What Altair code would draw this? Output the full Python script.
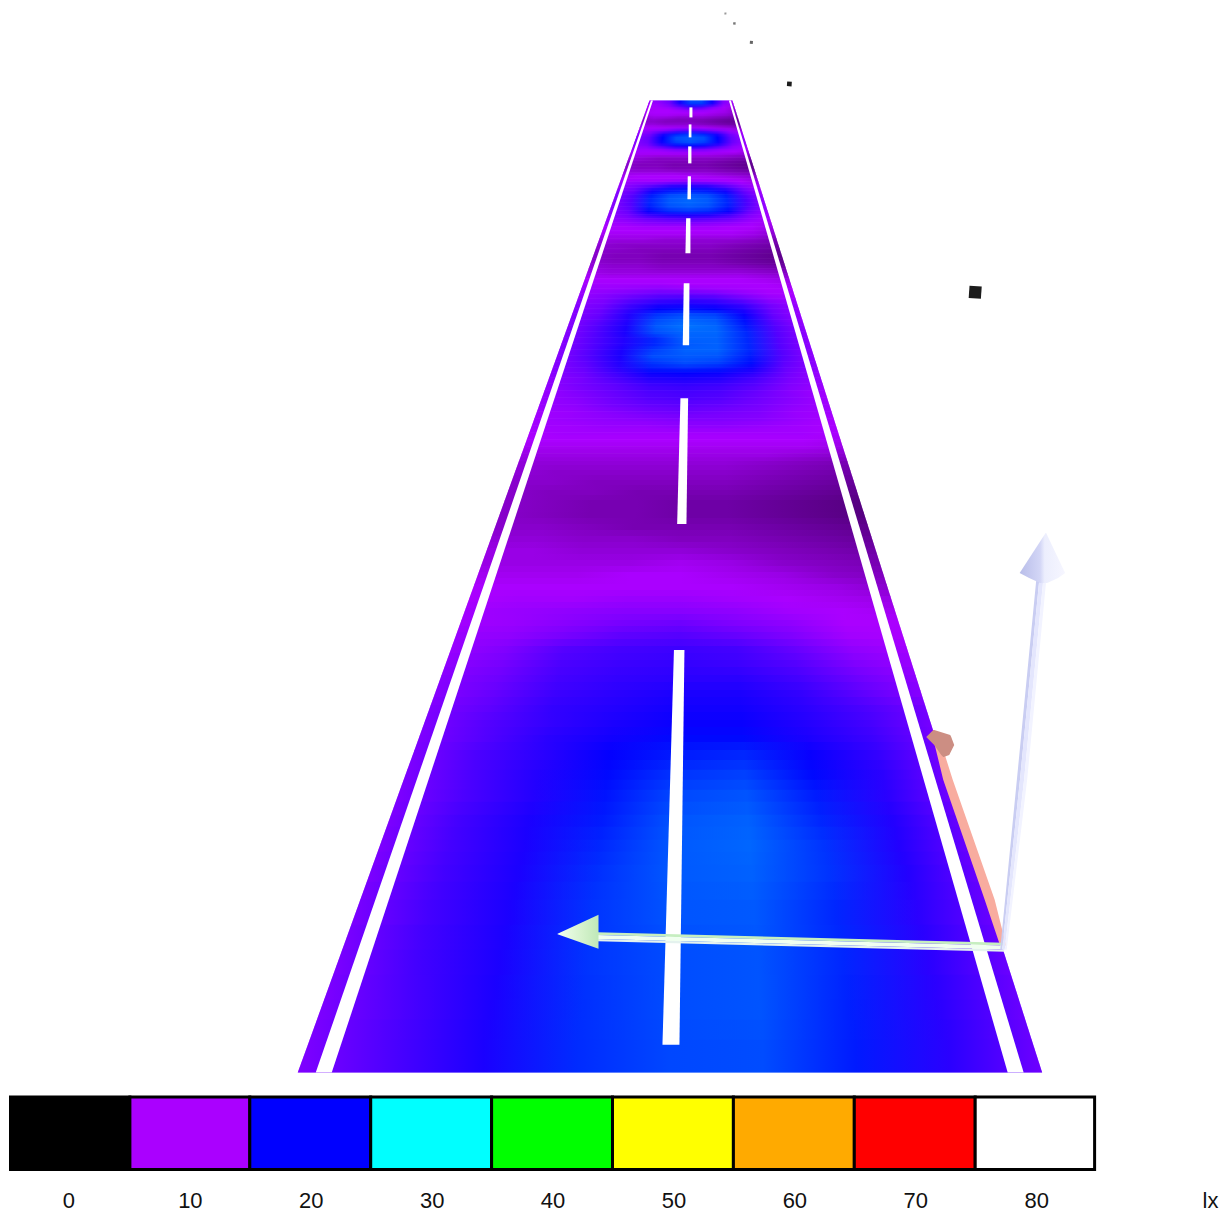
import altair as alt
import pandas as pd
import numpy as np

LEGEND_LUX = [0, 10, 20, 30, 40, 50, 60, 70, 80]
LEGEND_COLORS = ["#000000", "#aa00ff", "#0000ff", "#00ffff", "#00ff00", "#ffff00", "#ffaa00", "#ff0000", "#ffffff"]
LEGEND_EDGES = [9.5, 129, 249, 370, 491, 612, 733, 854, 975, 1094.5]
LEGEND_TEXT_X = [68, 189.5, 310.5, 431.5, 552.5, 673.5, 794.5, 915.5, 1036.5]
UNIT = "lx"

ROAD_Y = [100, 1073]
ROAD_LEFT = [649, 297]
ROAD_RIGHT = [732, 1042]
ROAD_END = 1073
CROSS = [0, .125, .25, .375, .5, .625, .75, .875, 1]

# lux read across the road (left edge to right edge) at each image row
LUX_ROWS = [
 (100, [11,12,14,20,23,23,20,13,10]),
 (103, [10.5,11,13,18,22,22,18,12,9.5]),
 (106, [10,10.5,11.5,14,17,16,13,10.5,9]),
 (109, [9.5,10,10,11,12,11.5,10.5,9.5,8]),
 (112, [10,10,10,10,10,10,9.5,9,8]),
 (115, [9,9.5,9.5,9,9,9,8.5,8,7]),
 (118, [8,8.5,8,7.5,7.5,7.5,7,6.5,6]),
 (121, [8,8,7.5,7.5,7.5,7,6.5,6,6]),
 (124, [9,9,8.5,8.5,8.5,8,7.5,7,6.5]),
 (127, [10,10,10,10.5,10.5,10,9.5,9,8]),
 (130, [11,11.5,13,15,16,15,13,11,9.5]),
 (133, [11.5,13,18,21,22,21,18,13,10.5]),
 (136, [12,14,20,23,23.5,23,20,14,11]),
 (139, [12,14,20,23,23.5,23,20,14,11]),
 (142, [12,13.5,19,22,23,22,19,13.5,11]),
 (145, [11.5,12.5,16,19,20,19,16,12,10.5]),
 (148, [11,11,12,13.5,14,13.5,12,11,10]),
 (151, [10.5,10.5,10.5,11,11,11,10.5,10,9]),
 (154, [9.5,9.5,9.5,9.5,9.5,9.5,9,8.5,8]),
 (157, [9,8.5,8,8,8,8,8,7.5,7]),
 (160, [8.5,8,7.5,7.5,7.5,7.5,7,6.5,6]),
 (163, [8,7.5,7.5,7,7,7,6.5,6,5.5]),
 (166, [8,7.5,7.5,7,7,7,6.5,6,5.5]),
 (169, [8.5,8,8,7.5,7.5,7.5,7,6.5,6]),
 (172, [9,9,9,9,8.5,8.5,8,7.5,7]),
 (175, [9.5,10,10,10,10,9.5,9,8.5,8]),
 (178, [10,10,10,10,10,10,10,9.5,8.5]),
 (181, [10.5,11,11,11.5,12,11.5,11,10,9]),
 (184, [11,12.5,14,16,16.5,16,14,11.5,9.5]),
 (187, [11,13,16,18.5,19,18.5,16,12.5,10]),
 (190, [12,14,19,21,21.5,21,19,14,10.5]),
 (194, [12,15,21,23,23.5,23,21,15,11]),
 (198, [12,15,21.5,23.5,24,23.5,21.5,15.5,11]),
 (202, [12,15,21.5,23.5,24,23.5,21.5,15.5,11]),
 (206, [12,14.5,21,23,23.5,23,21,15,11]),
 (210, [11.5,14,19.5,21.5,22,21.5,19.5,14,10.5]),
 (214, [11.5,13,16.5,18,18.5,18,16,12.5,10.5]),
 (218, [11,12,13.5,14.5,15,14.5,13.5,11.5,10]),
 (222, [10.5,11,12,12.5,12.5,12,11.5,10.5,9.5]),
 (226, [10,10,10.5,10.5,10.5,10.5,10,10,9]),
 (230, [10,10,10,10,10,10,10,9.5,8.5]),
 (234, [9.5,9.5,9.5,9.5,9.5,9.5,9.5,9,8]),
 (238, [9,9,9,8.5,8.5,8.5,8.5,8,7]),
 (243, [8.5,8,8,8,8,8,7.5,7,6.5]),
 (248, [8,8,7.5,7.5,7.5,7.5,7,6.5,6]),
 (253, [8,7.5,7.5,7,7,7,6.5,6,5.5]),
 (258, [8,7.5,7.5,7,7,7,6.5,6,5.5]),
 (263, [8.5,8,8,7.5,7.5,7.5,7,6.5,6]),
 (268, [9,8.5,8.5,8,8,8,8,7.5,7]),
 (273, [9.5,9,9,9,9,9,9,8.5,8]),
 (278, [10,10,10,10,10,10,10,9.5,9]),
 (283, [10.5,10.5,10.5,10.5,10,10,10,10,9.5]),
 (288, [11,11,11.5,12,11.5,11,10.5,10,10]),
 (293, [11,12,13,14,14,13.5,12,10.5,10]),
 (298, [11.5,12.5,14.5,16,16.5,16,14,11.5,10.5]),
 (303, [12,13,16,18,18.5,18,16.5,13,11]),
 (308, [12,13.5,17,20,20.5,20,18,13.5,11]),
 (313, [12,14,18,22,23,22.5,19.5,14,11]),
 (319, [12,14.5,18,23,24,23.5,20.5,14.5,11]),
 (325, [12,15,18.5,23.5,24.5,24,21,15,11.5]),
 (331, [12,15,18.5,23,24,24,21.5,15,11.5]),
 (337, [12,15,18,21.5,23.8,23.8,21.5,15,11.5]),
 (343, [12,15,18,21.5,23.5,23.8,21.5,15,11.5]),
 (349, [12,15,18.5,22.5,23.8,23.8,21.5,15,11.5]),
 (355, [12,15,18.5,23,23.5,23.3,21,15,11.5]),
 (361, [12,14.5,18,22,23,22.5,20.5,14.5,11.5]),
 (367, [12,14,17.5,21,21.5,21,19,14,11.5]),
 (372, [12,13.5,16.5,19.5,20,19.5,17.5,13.5,11]),
 (377, [11.5,13,15.5,18,18.5,18,16,13,11]),
 (383, [11.5,13,14.5,16.5,17,16.5,15,12.5,11]),
 (390, [11,12.5,14,15.5,16,15.5,14,12,10.5]),
 (397, [11,12,13.5,15,15.5,15,13.5,12,10.5]),
 (404, [11,11.5,13,14,14.5,14,13,11.5,10.5]),
 (411, [10.5,11,12,13,13.5,13,12.5,11,10.5]),
 (418, [10.5,11,11.5,12,12.5,12.5,12,11,10]),
 (425, [10.5,10.5,11,11,11.5,11.5,11,10.5,10]),
 (432, [10,10.5,10.5,10.5,10.5,10.5,10.5,10.5,10]),
 (439, [10,10,10,10,10,10,10,10,9.5]),
 (446, [9.5,9.5,9.5,9.5,9.5,9.5,9.5,9.5,9]),
 (453, [9,9,9,9,9,9,9,8.5,8]),
 (461, [8.5,8.5,8.5,8.5,8.5,8.5,8,7.5,7]),
 (470, [8.5,8,8,8,8,8,7.5,7,6.5]),
 (480, [8,8,7.5,7.5,7.5,7.5,7,6.5,6]),
 (490, [8,7.5,7.5,7,7,7,6.5,6,5.5]),
 (500, [8,7.5,7,7,6.5,6.5,6,5.5,5]),
 (512, [8,7.5,7,7,6.5,6.5,6,5.5,5]),
 (524, [8,8,7.5,7,7,7,6.5,6,5.5]),
 (536, [8.5,8.5,8,8,7.5,7.5,7,6.5,6]),
 (548, [9,9,8.5,8.5,8.5,8,7.5,7,6.5]),
 (560, [9,9,9,9,9.5,9,8,7.5,7]),
 (572, [9.5,9.5,9.5,10,10,9.5,9,8,7.5]),
 (584, [10,10,10,10,10,10,9.5,9,8]),
 (596, [10,10.5,10.5,11,11,10.5,10,9.5,9]),
 (608, [10.5,11,11.5,12,12,11.5,10.5,10,9.5]),
 (620, [10.5,11,12,13,13.5,12.5,11.5,10,10]),
 (632, [11,11.5,13,14.5,15,14,12.5,10.5,10]),
 (646, [11,12.5,15,16,16.5,16,14,11.5,10.5]),
 (660, [11.5,13,15.5,16.5,17,16.5,15,12.5,11]),
 (675, [12,13.5,16,17,17.5,17.5,16,13.5,11.5]),
 (690, [12,14,16.5,17.5,18.5,18.5,17,14.5,12]),
 (705, [12.5,14.5,17,18,19,19,17.5,15.5,13]),
 (720, [12.5,15,17,18.5,19.5,19.5,18,16,13]),
 (735, [12.5,15,17.5,19,20.3,20.3,18.5,16.5,13]),
 (750, [12.5,15.5,17.5,19.8,21,21.5,19.5,17,13]),
 (770, [12.5,15.5,18,20.3,22,22.5,20.3,17.5,13]),
 (790, [12.5,15.5,18,20.7,22.8,23.3,21,17.5,13]),
 (815, [12.5,16,18.5,21,23.3,23.8,21.5,18,13.5]),
 (840, [12.5,16,18.5,21.5,23.5,24,22,18,13.5]),
 (865, [12.5,16,18.5,21.8,23.5,23.8,22,18,13.5]),
 (900, [12.5,16,18.5,22,23.3,23.5,21.5,17.5,13.5]),
 (950, [12.5,16,18.5,22,23,23.3,21.5,17.5,13.5]),
 (1000, [12.5,15.5,18.5,21.8,23,23.3,21.2,17.5,13.5]),
 (1040, [12.5,15.5,18.5,21.7,22.8,23,21,17.5,13.5]),
]

# lane markings: y, left x, right x
LEFT_LINE = [(100, 650.5, 652.5), (1073, 315, 331)]
RIGHT_LINE = [(100, 728.5, 730.5), (1073, 1007.5, 1023.5)]
DASHES = [
 [(107, 689, 692), (117, 689, 692)],
 [(124, 688.3, 691), (137, 688.3, 691)],
 [(146, 687.7, 691), (163, 687.7, 691)],
 [(176, 687.3, 690.5), (199, 687, 690.5)],
 [(218, 685.7, 690), (253, 685, 690)],
 [(283, 683.3, 689), (345, 682.3, 688.7)],
 [(398, 680, 687.7), (524, 676.7, 686)],
 [(650, 673.5, 684), (1045, 662, 679)],
]

RED_SHAFT = [(745, 934.5, 941.5), (780, 943, 952.5), (900, 984.5, 994.5), (946, 1000, 1006)]
RED_CONE = [(730, 933, 934), (735, 928, 950), (737, 926, 951), (745, 934, 954), (755, 941, 949), (757, 943, 943.5)]
BLUE_SHAFT = [(581, 1036, 1046), (780, 1016.7, 1027), (950, 1000, 1006.5)]
BLUE_STRIPS = [(0, .3, "#c9cdf2"), (.3, .7, "#e4e6fd"), (.7, 1, "#f2f3ff")]
BLUE_CONE = [(533, 1045.5, 1046), (573, 1019.5, 1065), (578, 1029, 1058), (583, 1040, 1047)]
GREEN_SHAFT = [(597, 932.5, 941.5), (1004, 943, 952)]
GREEN_STRIPS = [(0, .3, "#c6eec0"), (.3, .75, "#f0fff0"), (.75, 1, "#e4f2ee")]
GREEN_CONE = [(557, 934, 934.5), (598, 915, 949)]

CUBES_X = [975, 789, 751, 734, 725]
CUBES_Y = [292, 83.5, 42, 23, 13]
CUBES_SIZE = [150, 22, 9, 6, 4]
CUBES_COLOR = ["#1c1c1c", "#1c1c1c", "#666666", "#777777", "#999999"]

XS = alt.Scale(domain=[8, 1222], nice=False, zero=False)
YS = alt.Scale(domain=[1208, 8], nice=False, zero=False)
X = alt.X("x:Q", scale=XS, axis=None)
Y = alt.Y("y:Q", scale=YS, axis=None)


def lux_hex(v):
    rgb = [int(c[i:i + 2], 16) for c in LEGEND_COLORS for i in (1, 3, 5)]
    rgb = np.array(rgb).reshape(-1, 3)
    vals = [np.interp(v, LEGEND_LUX, rgb[:, k]) for k in range(3)]
    return "#%02x%02x%02x" % tuple(int(round(a)) for a in vals)


def hgrad(stops):
    return alt.LinearGradient(gradient="linear", x1=0, x2=1, y1=0, y2=0,
                              stops=[alt.GradientStop(offset=o, color=c) for o, c in stops])


def band(points, color, opacity=1):
    df = pd.DataFrame(points, columns=["y", "x", "x2"])
    return alt.Chart(df).mark_area(orient="horizontal", color=color, opacity=opacity).encode(
        y=Y, x=X, x2="x2:Q")


def vband(points, color):
    df = pd.DataFrame(points, columns=["x", "y", "y2"])
    return alt.Chart(df).mark_area(orient="vertical", color=color, opacity=1).encode(
        x=X, y=Y, y2="y2:Q")


def road_x(y):
    return (float(np.interp(y, ROAD_Y, ROAD_LEFT)), float(np.interp(y, ROAD_Y, ROAD_RIGHT)))


def strips(points, parts, make):
    out = []
    for a, b, c in parts:
        pts = [(p[0], p[1] + a * (p[2] - p[1]), p[1] + b * (p[2] - p[1])) for p in points]
        out.append(make(pts, c))
    return out


layers = []
ys = [r[0] for r in LUX_ROWS] + [ROAD_END]
for i, (y0, lux) in enumerate(LUX_ROWS):
    ye = min(ys[i + 1] + 0.5, ROAD_END)
    l0, r0 = road_x(y0)
    l1, r1 = road_x(ye)
    layers.append(band([(y0, l0, r0), (ye, l1, r1)],
                       hgrad([(o, lux_hex(v)) for o, v in zip(CROSS, lux)])))
# second pass, half a row out of step and half transparent, softens the row steps
for i, (y0, lux) in enumerate(LUX_ROWS):
    top = y0 if i == 0 else (ys[i - 1] + y0) // 2
    bot = ROAD_END if i == len(LUX_ROWS) - 1 else (y0 + ys[i + 1]) // 2
    l0, r0 = road_x(top)
    l1, r1 = road_x(bot)
    layers.append(band([(top, l0, r0), (bot, l1, r1)],
                       hgrad([(o, lux_hex(v)) for o, v in zip(CROSS, lux)]), opacity=0.5))

layers.append(band(LEFT_LINE, "#ffffff"))
layers.append(band(RIGHT_LINE, "#ffffff"))
for d in DASHES:
    layers.append(band(d, "#ffffff"))

layers.append(band(RED_SHAFT, "#f8ac9f"))
layers.append(band(RED_CONE, "#cc8e83"))
layers += strips(GREEN_SHAFT, GREEN_STRIPS, vband)
layers.append(vband(GREEN_CONE, hgrad([(0, "#f2fff0"), (.6, "#d5f2cc"), (1, "#bfe8b8")])))
layers += strips(BLUE_SHAFT, BLUE_STRIPS, band)
layers.append(band(BLUE_CONE, hgrad([(0, "#b8bde9"), (.45, "#d3d6f6"), (.55, "#eceefd"), (1, "#f6f6ff")])))

cubes = pd.DataFrame({"x": CUBES_X, "y": CUBES_Y, "s": CUBES_SIZE, "c": CUBES_COLOR})
layers.append(alt.Chart(cubes).mark_square(opacity=1, filled=True, angle=4).encode(
    x=X, y=Y,
    size=alt.Size("s:Q", scale=None, legend=None),
    color=alt.Color("c:N", scale=None, legend=None)))

legend_df = pd.DataFrame({
    "lux": LEGEND_LUX,
    "x": LEGEND_EDGES[:-1],
    "x2": LEGEND_EDGES[1:],
    "y": [1097.5] * len(LEGEND_LUX),
    "y2": [1170] * len(LEGEND_LUX),
    "tx": LEGEND_TEXT_X,
    "ty": [1208.5] * len(LEGEND_LUX),
})
layers.append(alt.Chart(legend_df).mark_rect(stroke="#000000", strokeWidth=3, opacity=1).encode(
    x=X, x2="x2:Q", y=Y, y2="y2:Q",
    color=alt.Color("lux:Q", legend=None,
                    scale=alt.Scale(domain=LEGEND_LUX, range=LEGEND_COLORS, interpolate="rgb"))))
layers.append(alt.Chart(legend_df).mark_text(font="Liberation Sans", fontSize=22, color="#111111",
                                             align="center", baseline="alphabetic").encode(
    x=alt.X("tx:Q", scale=XS, axis=None), y=alt.Y("ty:Q", scale=YS, axis=None), text="lux:Q"))
layers.append(alt.Chart(pd.DataFrame({"x": [1210.5], "y": [1208.5], "t": [UNIT]})).mark_text(
    font="Liberation Sans", fontSize=22, color="#111111", align="center", baseline="alphabetic").encode(
    x=X, y=Y, text="t:N"))

chart = alt.layer(*layers).resolve_scale(color="independent").properties(
    width=1214, height=1200, padding=0, background="#ffffff"
).configure_view(stroke=None)

chart.save("out.html", embed_options={"renderer": "svg", "actions": False})
